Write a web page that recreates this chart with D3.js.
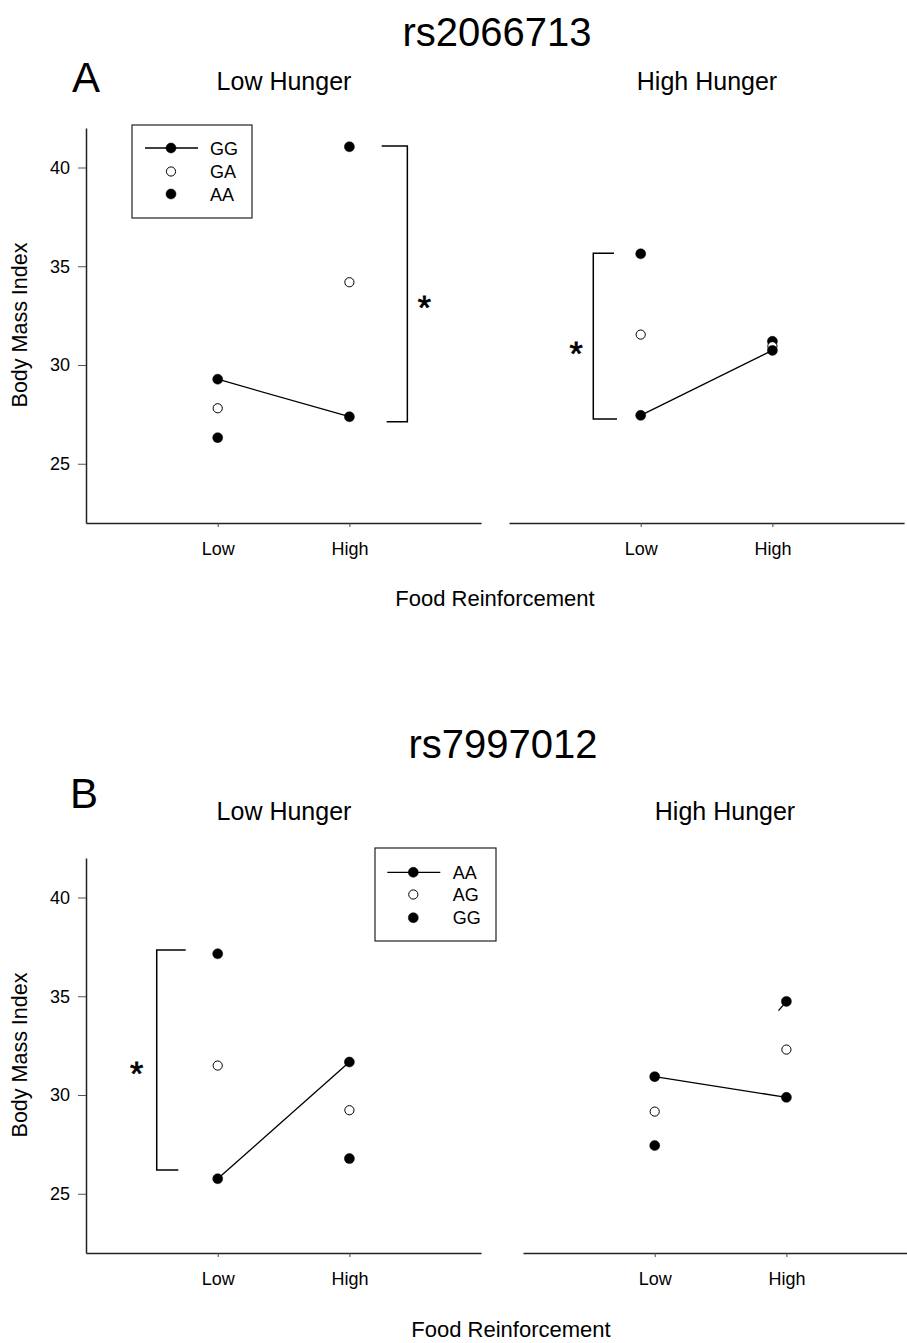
<!DOCTYPE html>
<html>
<head>
<meta charset="utf-8">
<script src="https://cdn.jsdelivr.net/npm/d3@7"></script>
<style>
  body { margin: 0; background: #fff; }
  svg { display: block; font-family: Arial, "Liberation Sans", Helvetica, sans-serif; }
</style>
</head>
<body>
<svg id="chart" width="907" height="1343"></svg>
<script>
// ---------- DATA ----------
const foodLevels = ["Low", "High"];          // x categories (positions 1, 2)
const yTicks = [25, 30, 35, 40];
const yDomain = [22, 42];

// Panel A: rs2066713  (genotypes GG (line), GA (open), AA (filled))
const aGenotypes = ["GG", "GA", "AA"];
const aLowHungerGG = [29.28, 27.38];
const aLowHungerGA = [27.81, 34.19];
const aLowHungerAA = [26.32, 41.05];
const aHighHungerGG = [27.45, 30.74];
const aHighHungerGA = [31.54, 30.95];
const aHighHungerAA = [35.63, 31.20];

// Panel B: rs7997012  (genotypes AA (line), AG (open), GG (filled))
const bGenotypes = ["AA", "AG", "GG"];
const bLowHungerAA = [25.76, 31.67];
const bLowHungerAG = [31.49, 29.23];
const bLowHungerGG = [37.15, 26.78];
const bHighHungerAA = [30.93, 29.88];
const bHighHungerAG = [29.16, 32.30];
const bHighHungerGG = [27.44, 34.74];
const bHighHungerStub = [[2, 34.74], [1.94, 34.27]];

// Significance brackets [xVertical, yTop, yBottom, xTopEnd, xBottomEnd, xStar, yStar]
const aLowBracket  = [2.44, 41.09, 27.13, 2.245, 2.283, 2.57, 33.33];
const aHighBracket = [0.64, 35.66, 27.27, 0.797, 0.82, 0.509, 31.01];
const bLowBracket  = [0.537, 37.34, 26.2, 0.757, 0.701, 0.385, 31.52];

// ---------- DRAW ----------
const svg = d3.select("#chart");
const FONT = "Arial, 'Liberation Sans', Helvetica, sans-serif";

function drawPanel(cfg) {
  const x = d3.scaleLinear().domain([0, 3]).range([cfg.x0, cfg.x0 + 3 * 131.7]);
  const y = d3.scaleLinear().domain(yDomain).range([cfg.yBottom, cfg.yBottom - 395]);
  const g = svg.append("g");

  // x axis
  const xAxis = d3.axisBottom(x).tickValues([1, 2])
    .tickFormat((d) => foodLevels[d - 1]).tickSize(4).tickSizeOuter(0);
  const xa = g.append("g").attr("transform", `translate(0,${cfg.yBottom})`).call(xAxis);
  xa.attr("font-family", FONT).attr("font-size", 18);
  xa.select(".domain").attr("stroke", "#222").attr("stroke-width", 1.5);
  xa.selectAll(".tick line").attr("stroke", "#444");
  xa.selectAll(".tick text").attr("font-size", "18px").attr("fill", "#000")
    .attr("dy", 0).attr("y", 32);

  if (cfg.yAxis) {
    const yAxis = d3.axisLeft(y).tickValues(yTicks).tickSize(8).tickSizeOuter(0);
    const ya = g.append("g").attr("transform", `translate(${cfg.x0},0)`).call(yAxis);
    ya.attr("font-family", FONT).attr("font-size", 18);
    ya.select(".domain").attr("stroke", "#222").attr("stroke-width", 1.5);
    ya.selectAll(".tick line").attr("stroke", "#555");
    ya.selectAll(".tick text").attr("font-size", "18px").attr("fill", "#000")
      .attr("x", -16);
  }

  // line for first genotype
  const line = d3.line().x((d, i) => x(i + 1)).y((d) => y(d));
  g.append("path").datum(cfg.lineSeries).attr("d", line)
    .attr("fill", "none").attr("stroke", "#000").attr("stroke-width", 1.3);

  if (cfg.stub) {
    g.append("path").datum(cfg.stub)
      .attr("d", d3.line().x((d) => x(d[0])).y((d) => y(d[1])))
      .attr("fill", "none").attr("stroke", "#000").attr("stroke-width", 1.3);
  }

  // points
  const drawPts = (series, open) => {
    g.selectAll(null).data(series).join("circle")
      .attr("cx", (d, i) => x(i + 1)).attr("cy", (d) => y(d))
      .attr("r", open ? 4.6 : 5)
      .attr("fill", open ? "#fff" : "#000")
      .attr("stroke", "#000").attr("stroke-width", open ? 1 : 0.5);
  };
  drawPts(cfg.filledSeries, false);
  drawPts(cfg.openSeries, true);
  drawPts(cfg.lineSeries, false);

  // bracket
  if (cfg.bracket) {
    const b = cfg.bracket;
    const p = d3.path();
    p.moveTo(x(b[3]), y(b[1]));
    p.lineTo(x(b[0]), y(b[1]));
    p.lineTo(x(b[0]), y(b[2]));
    p.lineTo(x(b[4]), y(b[2]));
    g.append("path").attr("d", p.toString()).attr("fill", "none")
      .attr("stroke", "#000").attr("stroke-width", 1.5);
    g.append("text").attr("x", x(b[5])).attr("y", y(b[6]) + 20)
      .attr("text-anchor", "middle").attr("font-size", "34px")
      .attr("stroke", "#000").attr("stroke-width", 0.8).text("*");
  }

  // panel title
  g.append("text").attr("x", cfg.titleX).attr("y", cfg.titleY)
    .attr("text-anchor", "middle").attr("font-size", "25px").text(cfg.title);

  return { x, y, g };
}

function legend(box, rows, names) {
  const g = svg.append("g");
  g.append("rect").attr("x", box[0]).attr("y", box[1]).attr("width", box[2]).attr("height", box[3])
    .attr("fill", "#fff").attr("stroke", "#222").attr("stroke-width", 1.2);
  const mx = box[4], tx = box[5];
  rows.forEach((ry, i) => {
    if (i === 0) {
      g.append("line").attr("x1", mx - 26).attr("x2", mx + 27).attr("y1", ry).attr("y2", ry)
        .attr("stroke", "#000").attr("stroke-width", 1.3);
    }
    g.append("circle").attr("cx", mx).attr("cy", ry).attr("r", i === 1 ? 4.6 : 5)
      .attr("fill", i === 1 ? "#fff" : "#000").attr("stroke", "#000").attr("stroke-width", i === 1 ? 1 : 0.5);
    g.append("text").attr("x", tx).attr("y", ry + 6.5).attr("font-size", "18px").text(names[i]);
  });
}

// ----- Panel A -----
drawPanel({ x0: 86, yBottom: 523, yAxis: true, title: "Low Hunger", titleX: 284, titleY: 90,
  lineSeries: aLowHungerGG, openSeries: aLowHungerGA, filledSeries: aLowHungerAA, bracket: aLowBracket });
drawPanel({ x0: 509, yBottom: 523, yAxis: false, title: "High Hunger", titleX: 707, titleY: 90,
  lineSeries: aHighHungerGG, openSeries: aHighHungerGA, filledSeries: aHighHungerAA, bracket: aHighBracket });
legend([132, 125, 120, 93, 171, 210], [148, 171.5, 194], aGenotypes);

// ----- Panel B -----
drawPanel({ x0: 86, yBottom: 1253, yAxis: true, title: "Low Hunger", titleX: 284, titleY: 820,
  lineSeries: bLowHungerAA, openSeries: bLowHungerAG, filledSeries: bLowHungerGG, bracket: bLowBracket });
drawPanel({ x0: 523, yBottom: 1253, yAxis: false, title: "High Hunger", titleX: 725, titleY: 820,
  lineSeries: bHighHungerAA, openSeries: bHighHungerAG, filledSeries: bHighHungerGG, stub: bHighHungerStub });
legend([375, 848, 121, 93, 413.3, 452.7], [872.3, 894.5, 917.7], bGenotypes);

// ----- Titles, axis titles -----
const T = (x, y, s, txt, anchor = "middle") =>
  svg.append("text").attr("x", x).attr("y", y).attr("font-size", s).attr("text-anchor", anchor).text(txt);

T(497, 46, "40px", "rs2066713");
T(72, 92, "42px", "A", "start");
T(495, 606, "22px", "Food Reinforcement");

T(503, 758, "40px", "rs7997012");
T(70, 808, "42px", "B", "start");
T(511, 1337, "22px", "Food Reinforcement");

[325, 1055].forEach((cy) => {
  svg.append("text").attr("transform", `translate(27,${cy}) rotate(-90)`)
    .attr("text-anchor", "middle").attr("font-size", "21.5px").text("Body Mass Index");
});
</script>
</body>
</html>
